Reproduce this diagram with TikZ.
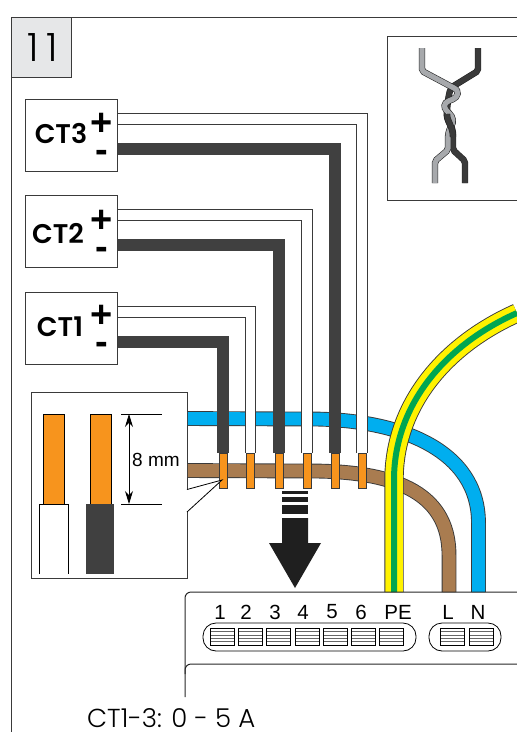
\documentclass[tikz,border=0pt]{standalone}
\usepackage{fontspec}
\usepackage{xcolor}
\usetikzlibrary{arrows.meta}
\setmainfont{Liberation Sans}
\newfontfamily\lightfont{Poppins Light}
\newfontfamily\ctfont{Poppins SemiBold}

\definecolor{wireline}{HTML}{3A3A3A}
\definecolor{wireblack}{HTML}{404040}
\definecolor{wireblue}{HTML}{00AEEF}
\definecolor{wirebrown}{HTML}{A97C50}
\definecolor{wireyellow}{HTML}{FFF200}
\definecolor{wiregreen}{HTML}{00A651}
\definecolor{pinorange}{HTML}{F7941D}
\definecolor{tabgrey}{HTML}{E6E7E8}
\definecolor{twistgrey}{HTML}{A7A9AC}

\tikzset{
    ctbox/.style={draw=wireline, line width=0.9pt, fill=white, minimum width=92pt, minimum height=72pt, inner sep=0pt},
    ctname/.style={font=\ctfont\fontsize{27}{27}\selectfont, inner sep=0pt},
    polarity/.style={font=\bfseries\fontsize{38}{38}\selectfont, inner sep=0pt},
    pin/.style={draw=wireline, line width=0.9pt, fill=pinorange, minimum width=8pt, minimum height=35pt, inner sep=0pt},
    whitewire/.style={draw=wireline, line width=1pt, double=white, double distance=9.5pt},
    blackwire/.style={draw=wireblack, line width=11.5pt},
    mainswire/.style={draw=wireline, line width=0.9pt, double distance=13pt},
    label/.style={font=\fontsize{20.5}{20.5}\selectfont, inner sep=0pt},
    terminal/.style={draw=black, line width=0.8pt, minimum width=24pt, minimum height=17pt, inner sep=0pt,
        path picture={
            \draw[black!60, line width=0.6pt] (path picture bounding box.west) ++(0,-5pt) -- ++(24pt,0);
            \draw[black!60, line width=0.6pt] (path picture bounding box.west) ++(0,-1.7pt) -- ++(24pt,0);
            \draw[black!60, line width=0.6pt] (path picture bounding box.west) ++(0,1.7pt) -- ++(24pt,0);
            \draw[black!60, line width=0.6pt] (path picture bounding box.west) ++(0,5pt) -- ++(24pt,0);
        }},
    pill/.style={draw=black, line width=0.8pt, rounded corners=13pt, minimum height=28pt, inner sep=0pt},
    twist/.style={draw=black!85, line width=0.6pt, double distance=5.2pt, rounded corners=2pt}
}

\begin{document}
\begin{tikzpicture}[x=1pt, y=-1pt]
    \useasboundingbox (0,0) rectangle (517,732);

    % Frame and number tab
    \draw[wireline, line width=0.9pt] (11,732) -- (11,17) -- (517,17);
    \node[draw=wireline, line width=0.9pt, fill=tabgrey, minimum width=60pt, minimum height=60pt, inner sep=0pt] (tab) at (41,47) {};
    \node[font=\lightfont\fontsize{39}{39}\selectfont\addfontfeature{LetterSpace=20}, inner sep=0pt] (tabnum) at (43,48) {11};

    % Twisted pair inset
    \draw[wireline, line width=0.9pt] (517,36) -- (387,36) -- (387,200) -- (517,200);
    \draw[twist, double=wireline] (478,48) -- (478,71) -- (452,87) .. controls (449,92) and (448,100) .. (447,110) .. controls (446,122) and (453,126) .. (453,135) -- (453,150) -- (465,161) -- (465,183);
    \draw[twist, double=twistgrey] (422,48) -- (422,71) -- (452,87) .. controls (460,91) and (458,97) .. (451,100) .. controls (443,103) and (444,108) .. (448,112) .. controls (453,117) and (454,122) .. (450,128) -- (448,135) -- (448,150) -- (435,161) -- (435,183);
    \draw[twist, double=wireline, rounded corners=0pt] (447,114) .. controls (447,122) and (453,126) .. (453,137);

    % Detail inset with stripped ends
    \node[ctbox, minimum width=156pt, minimum height=186pt] (detail) at (109,485) {};
    \node[draw=black, line width=0.8pt, fill=pinorange, minimum width=21pt, minimum height=90pt, inner sep=0pt] (stripa) at (53.5,459) {};
    \node[draw=black, line width=0.8pt, fill=pinorange, minimum width=21pt, minimum height=90pt, inner sep=0pt] (stripb) at (100.5,459) {};
    \fill[white] (39,504) rectangle (68,574);
    \draw[black, line width=0.8pt] (39,574) -- (39,504) -- (68,504) -- (68,574);
    \fill[wireblack] (86,504) rectangle (114,574);
    \coordinate (dimtop) at (129,414);
    \coordinate (dimbot) at (129,504);
    \draw[black, line width=0.8pt] (121,414) -- (162,414);
    \draw[black, line width=0.8pt] (121,504) -- (162,504);
    \draw[black, line width=0.8pt, {Stealth[length=13pt,width=8pt]}-{Stealth[length=13pt,width=8pt]}] (dimtop) -- (dimbot);
    \node[font=\fontsize{19}{19}\selectfont, inner sep=0pt, anchor=west] (dimlabel) at (132,460) {8 mm};

    % Mains wires
    \coordinate (nend) at (478.5,592);
    \coordinate (lend) at (449,592);
    \coordinate (peend) at (394,592);
    \coordinate (peout) at (517,313);
    \draw[mainswire, double=wireblue] ([shift={(0.5pt,-27pt)}]detail.north east) -- (310,419) .. controls (400,419) and (478.5,450) .. (478.5,523) -- (nend);
    \draw[mainswire, double=wirebrown] ([shift={(0.5pt,-79pt)}]detail.north east) -- (310,471) .. controls (390,471) and (449,490) .. (449,555) -- (lend);
    \draw[draw=wireline, line width=0.9pt, double=wireyellow, double distance=17.5pt] (peend) -- (394,480) .. controls (394,405) and (445,345) .. (peout);
    \draw[draw=wiregreen, line width=6pt] (peend) -- (394,480) .. controls (394,405) and (445,345) .. (peout);

    % Ferrules
    \node[pin] (pin1) at (223,470.5) {};
    \node[pin] (pin2) at (250.5,470.5) {};
    \node[pin] (pin3) at (279,470.5) {};
    \node[pin] (pin4) at (307,470.5) {};
    \node[pin] (pin5) at (335,470.5) {};
    \node[pin] (pin6) at (362,470.5) {};

    % Callout
    \coordinate (callouta) at (187,489.5);
    \coordinate (calloutb) at (187,512);
    \coordinate (callouttip) at (222,480);
    \fill[white] (callouta) -- (callouttip) -- (calloutb) -- cycle;
    \draw[black, line width=0.8pt] (callouta) -- (callouttip) -- (calloutb);

    % Current transformer boxes
    \node[ctbox] (ct3) at (71,135) {};
    \node[ctbox] (ct2) at (71,231) {};
    \node[ctbox] (ct1) at (71,328) {};
    \node[ctname] (ct3name) at (61,134) {CT3};
    \node[ctname] (ct2name) at (58,234) {CT2};
    \node[ctname] (ct1name) at (60,327) {CT1};
    \node[polarity] (ct3plus) at (102,124) {+};
    \node[polarity] (ct3minus) at (102,156) {-};
    \node[polarity] (ct2plus) at (102,221) {+};
    \node[polarity] (ct2minus) at (102,253) {-};
    \node[polarity] (ct1plus) at (102,316) {+};
    \node[polarity] (ct1minus) at (102,348) {-};

    % Signal wires
    \draw[whitewire] ([shift={(0.5pt,-20.5pt)}]ct3.north east) -| (pin6.north);
    \draw[blackwire] ([shift={(0.5pt,-50.5pt)}]ct3.north east) -| (pin5.north);
    \draw[whitewire] ([shift={(0.5pt,-20.5pt)}]ct2.north east) -| (pin4.north);
    \draw[blackwire] ([shift={(0.5pt,-50.5pt)}]ct2.north east) -| (pin3.north);
    \draw[whitewire] ([shift={(0.5pt,-20.5pt)}]ct1.north east) -| (pin2.north);
    \draw[blackwire] ([shift={(0.5pt,-50.5pt)}]ct1.north east) -| (pin1.north);

    % Insertion arrow
    \fill[black!88] (282,491) rectangle (308,494);
    \fill[black!88] (282,497) rectangle (308,502);
    \fill[black!88] (282,505) rectangle (308,514);
    \fill[black!88] (282,518) -- (308,518) -- (308,543) -- (321,543) -- (295,588) -- (269,543) -- (282,543) -- cycle;

    % Device outline
    \draw[black!85, line width=1pt, rounded corners=6pt] (517,592) -- (185,592) -- (185,697);
    \draw[black!85, line width=1pt, rounded corners=6pt] (517,664) -- (185,664) -- (185,674);

    % Terminal block
    \node[pill, minimum width=213pt] (blocka) at (309.5,637) {};
    \node[pill, minimum width=72pt] (blockb) at (465,637) {};
    \node[terminal] (term1) at (222,636.5) {};
    \node[terminal] (term2) at (250.3,636.5) {};
    \node[terminal] (term3) at (278.6,636.5) {};
    \node[terminal] (term4) at (306.9,636.5) {};
    \node[terminal] (term5) at (335.2,636.5) {};
    \node[terminal] (term6) at (363.5,636.5) {};
    \node[terminal] (term7) at (391.8,636.5) {};
    \node[terminal] (terml) at (452.5,636.5) {};
    \node[terminal] (termn) at (481,636.5) {};

    % Labels
    \node[label] (lab1) at (220,612) {1};
    \node[label] (lab2) at (246,612) {2};
    \node[label] (lab3) at (275,612) {3};
    \node[label] (lab4) at (303,612) {4};
    \node[label] (lab5) at (332,612) {5};
    \node[label] (lab6) at (361,612) {6};
    \node[label] (labpe) at (398,612) {PE};
    \node[label] (labl) at (448,612) {L};
    \node[label] (labn) at (478,612) {N};
    \node[font=\lightfont\fontsize{26}{26}\selectfont, inner sep=0pt, anchor=base west] (rating) at (87,727.5) {CT1-3: 0 - 5 A};
\end{tikzpicture}
\end{document}
